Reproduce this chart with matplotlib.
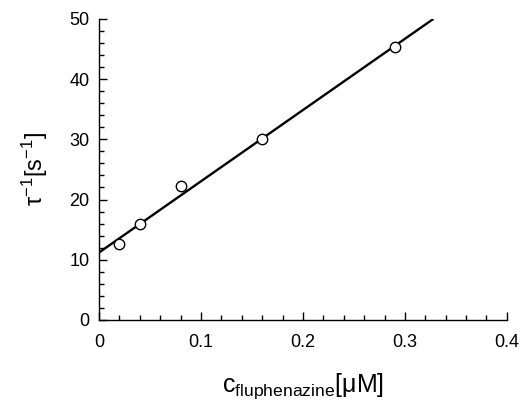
import matplotlib
matplotlib.use("Agg")
import matplotlib.pyplot as plt
from matplotlib.ticker import MultipleLocator, FuncFormatter

plt.rcParams['font.family'] = ['Liberation Sans', 'DejaVu Sans']
plt.rcParams['mathtext.fontset'] = 'custom'
plt.rcParams['mathtext.rm'] = 'Liberation Sans'
plt.rcParams['mathtext.it'] = 'Liberation Sans:italic'
plt.rcParams['mathtext.sf'] = 'Liberation Sans'

# measured points
conc = [0.02, 0.04, 0.08, 0.16, 0.29]
rate = [12.7, 15.9, 22.2, 30.0, 45.4]

# linear fit line end points
fit_x = [0.0, 0.328]
fit_y = [11.2, 50.0]

fig = plt.figure(figsize=(5.28, 4.01), dpi=100)
ax = fig.add_axes([0.1875, 0.202, 0.7725, 0.751])

ax.plot(fit_x, fit_y, color='black', lw=1.7, solid_capstyle='butt', zorder=2)
ax.plot(conc, rate, 'o', ms=7.5, mfc='white', mec='black', mew=1.0, zorder=3)

ax.set_xlim(0, 0.4)
ax.set_ylim(0, 50)
ax.xaxis.set_major_locator(MultipleLocator(0.1))
ax.xaxis.set_minor_locator(MultipleLocator(0.02))
ax.yaxis.set_major_locator(MultipleLocator(10))
ax.yaxis.set_minor_locator(MultipleLocator(2))
ax.xaxis.set_major_formatter(FuncFormatter(lambda v, p: '0' if abs(v) < 1e-9 else f'{v:.1f}'))

for s in ['top', 'right']:
    ax.spines[s].set_visible(False)
for s in ['left', 'bottom']:
    ax.spines[s].set_linewidth(1.0)

ax.tick_params(which='both', direction='in', width=1.0, labelsize=13)
ax.tick_params(which='major', length=6)
ax.tick_params(which='minor', length=3.5)
ax.tick_params(axis='x', pad=10)
ax.tick_params(axis='y', pad=7)

ax.set_xlabel(r'c$_{\mathrm{fluphenazine}}$[μM]', fontsize=18, labelpad=15)
ax.set_ylabel(r'$\mathrm{\tau}^{\mathrm{-1}}$[s$^{\mathrm{-1}}$]', fontsize=17, labelpad=14)

fig.savefig('out.png', dpi=100)
